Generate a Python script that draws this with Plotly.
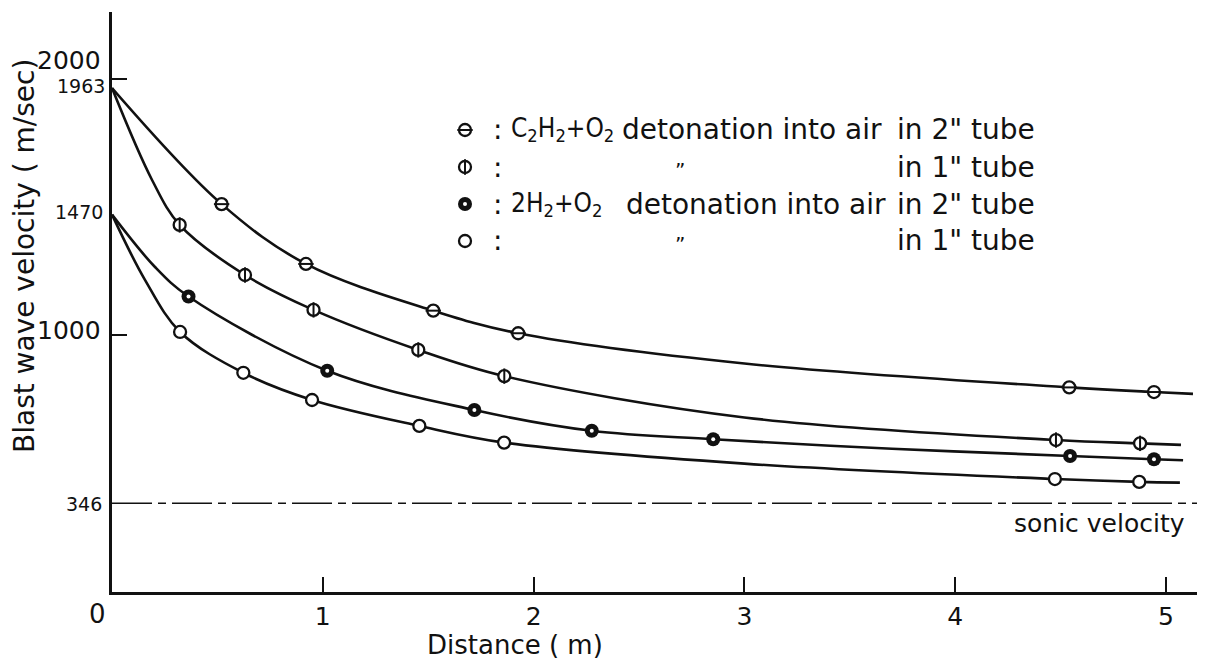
import plotly.graph_objects as go

# ---------------- data ----------------
# C2H2+O2 detonation into air, 2" tube
a_x = [0.520, 0.920, 1.524, 1.927, 4.541, 4.943]
a_y = [1511, 1278, 1096, 1008, 797, 779]
a_curve_x = [0.0, 0.520, 0.920, 1.524, 1.927, 3.0, 4.541, 4.943, 5.128]
a_curve_y = [1963, 1511, 1278, 1096, 1008, 890, 797, 779, 772]

# C2H2+O2 detonation into air, 1" tube
b_x = [0.321, 0.631, 0.956, 1.453, 1.861, 4.478, 4.877]
b_y = [1430, 1235, 1099, 943, 841, 592, 579]
b_curve_x = [0.0, 0.19, 0.321, 0.631, 0.956, 1.453, 1.861, 3.0, 4.478, 4.877, 5.071]
b_curve_y = [1963, 1605, 1430, 1235, 1099, 943, 841, 680, 592, 579, 573]

# 2H2+O2 detonation into air, 2" tube
c_x = [0.363, 1.021, 1.719, 2.276, 2.852, 4.545, 4.943]
c_y = [1151, 862, 709, 628, 595, 530, 517]
c_curve_x = [0.0, 0.204, 0.363, 1.021, 1.719, 2.276, 2.852, 3.7, 4.545, 4.943, 5.081]
c_curve_y = [1470, 1266, 1151, 862, 709, 628, 595, 558, 530, 517, 513]

# 2H2+O2 detonation into air, 1" tube
d_x = [0.323, 0.623, 0.949, 1.458, 1.860, 4.473, 4.873]
d_y = [1013, 854, 748, 647, 582, 440, 429]
d_curve_x = [0.0, 0.157, 0.323, 0.623, 0.949, 1.458, 1.860, 3.0, 4.473, 4.873, 5.066]
d_curve_y = [1470, 1215, 1013, 854, 748, 647, 582, 500, 440, 429, 426]

sonic_velocity = 346
x_ticks = [1, 2, 3, 4, 5]
x_tick_text = ["1", "2", "3", "4", "5"]
x_origin_label = "0"
y_tick_marks = [1000, 2000]
y_labels_big = [2000, 1000]
y_labels_small = [1963, 1470, 346]

# ---------------- layout geometry (page pixels) ----------------
PAGE_OFF = 8                      # default body margin of the html page
W, H = 1205 - PAGE_OFF, 661 - PAGE_OFF
PL, PR, PT, PB = 112, 1205, 12, 592   # plot area in page pixels
PW, PH = PR - PL, PB - PT
X_MAX = PW / 210.8
Y_MAX = PH / 0.2567


def pxx(p):
    return (p - PL) / PW


def pxy(p):
    return (PB - p) / PH


FONT = "DejaVu Sans, Verdana, sans-serif"
FONT_C = "DejaVu Sans Condensed, DejaVu Sans, sans-serif"
BLACK = "#111111"

fig = go.Figure()

for cx, cy in [(a_curve_x, a_curve_y), (b_curve_x, b_curve_y),
               (c_curve_x, c_curve_y), (d_curve_x, d_curve_y)]:
    fig.add_trace(go.Scatter(x=cx, y=cy, mode="lines",
                             line=dict(color=BLACK, width=2.6, shape="spline", smoothing=1.0),
                             hoverinfo="skip", showlegend=False))


def add_markers(xs, ys, kind, xaxis="x", yaxis="y"):
    common = dict(mode="markers", xaxis=xaxis, yaxis=yaxis, showlegend=False, hoverinfo="skip")
    if kind == "c":
        fig.add_trace(go.Scatter(x=xs, y=ys, marker=dict(symbol="circle", size=14, color=BLACK,
                                                         line=dict(width=0)), **common))
        fig.add_trace(go.Scatter(x=xs, y=ys, marker=dict(symbol="circle", size=4, color="white",
                                                         line=dict(width=0)), **common))
        return
    fig.add_trace(go.Scatter(x=xs, y=ys, marker=dict(symbol="circle", size=12, color="white",
                                                     line=dict(color=BLACK, width=2.3)), **common))
    if kind in ("a", "b"):
        sym = "line-ew" if kind == "a" else "line-ns"
        fig.add_trace(go.Scatter(x=xs, y=ys, marker=dict(symbol=sym, size=11,
                                                         line=dict(color=BLACK, width=2)), **common))


add_markers(a_x, a_y, "a")
add_markers(b_x, b_y, "b")
add_markers(c_x, c_y, "c")
add_markers(d_x, d_y, "d")

# legend (custom, on an overlay axis spanning the plot area 0..1)
leg_rows = [130, 167, 204, 241]
leg_marker_x = 465
for kind, ry in zip(["a", "b", "c", "d"], leg_rows):
    add_markers([pxx(leg_marker_x)], [pxy(ry)], kind, xaxis="x2", yaxis="y2")

ann = []


def text(px, py, t, size, anchor="left", family=FONT, **kw):
    d = dict(x=pxx(px), y=pxy(py), xref="paper", yref="paper", text=t, showarrow=False,
             xanchor=anchor, yanchor="middle", font=dict(family=family, size=size, color=BLACK))
    d.update(kw)
    ann.append(d)


LEG = 28
for ry in leg_rows:
    text(497, ry, ":", LEG, "center")
text(509, leg_rows[0], "C<sub>2</sub>H<sub>2</sub>+O<sub>2</sub>", 26, family=FONT_C)
text(509, leg_rows[2], "2H<sub>2</sub>+O<sub>2</sub>", 26, family=FONT_C)
text(752, leg_rows[0], "detonation into air", LEG, "center")
text(756, leg_rows[2], "detonation into air", LEG, "center")
for ry in (leg_rows[1], leg_rows[3]):
    text(680, ry + 3, "\u201d", 20, "center")
for ry, t in zip(leg_rows, ["in 2\" tube", "in 1\" tube", "in 2\" tube", "in 1\" tube"]):
    text(1037, ry, t, LEG, "right")

# y-axis value labels
text(103, 60, str(y_labels_big[0]), 25, "right")
text(103, 330, str(y_labels_big[1]), 25, "right")
text(107, 86, str(y_labels_small[0]), 19, "right")
text(105, 212, str(y_labels_small[1]), 19, "right")
text(104, 504, str(y_labels_small[2]), 19, "right")
text(97, 614, x_origin_label, 26, "center")

# axis titles & annotation
text(25, 256, "Blast wave velocity ( m/sec)", 28, "center", textangle=-90)
text(515, 645, "Distance ( m)", 26, "center")
text(1187, 523, "sonic velocity", 25, "right")

fig.add_shape(type="line", xref="paper", yref="y", x0=0, x1=1, y0=sonic_velocity, y1=sonic_velocity,
              line=dict(color=BLACK, width=1.6, dash="40px,6px,8px,6px"))

fig.update_layout(
    width=W, height=H,
    margin=dict(l=PL - PAGE_OFF, r=0, t=PT - PAGE_OFF, b=(H + PAGE_OFF) - PB, pad=0),
    paper_bgcolor="white", plot_bgcolor="white",
    showlegend=False,
    annotations=ann,
    font=dict(family=FONT, color=BLACK),
    xaxis=dict(range=[0, X_MAX], showgrid=False, zeroline=False, showline=True,
               linecolor=BLACK, linewidth=2.6, ticks="inside", ticklen=15, tickwidth=2,
               tickcolor=BLACK, tickvals=x_ticks, ticktext=x_tick_text,
               tickfont=dict(family=FONT, size=25, color=BLACK)),
    yaxis=dict(range=[0, Y_MAX], showgrid=False, zeroline=False, showline=True,
               linecolor=BLACK, linewidth=2.8, ticks="inside", ticklen=15, tickwidth=2,
               tickcolor=BLACK, tickvals=y_tick_marks, showticklabels=False),
    xaxis2=dict(overlaying="x", range=[0, 1], visible=False),
    yaxis2=dict(overlaying="y", range=[0, 1], visible=False),
)

fig.write_html("out.html")
